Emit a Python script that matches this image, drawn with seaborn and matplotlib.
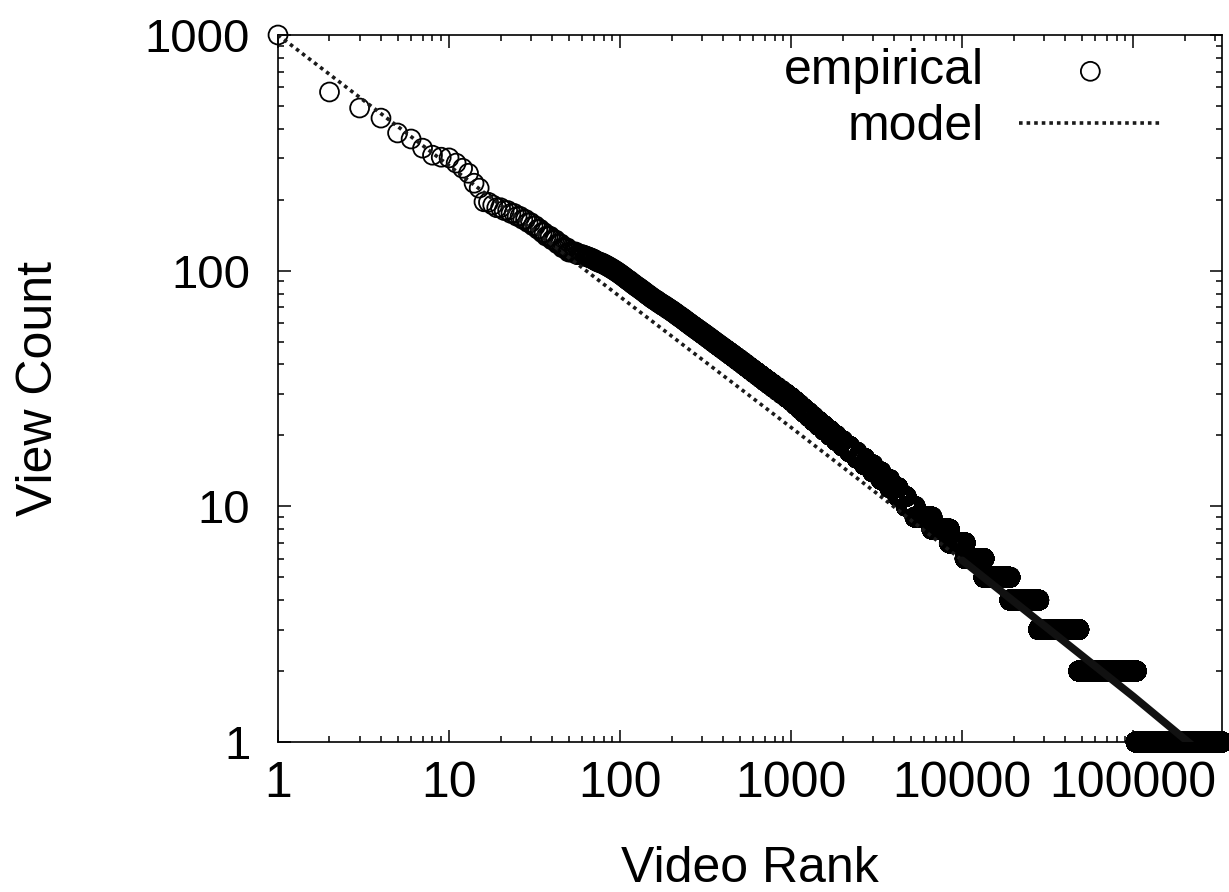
import numpy as np
import pandas as pd
import matplotlib
matplotlib.use("Agg")
import matplotlib.pyplot as plt
from matplotlib.ticker import FixedLocator, FixedFormatter, LogLocator, NullFormatter
import seaborn as sns

# ---------------- data ----------------
# most popular videos, one by one
top_ranks = [1, 2, 3, 4, 5, 6, 7, 8, 9, 10, 11, 12, 13, 14, 15, 16]
top_counts = [1000, 573, 490, 444, 384, 362, 331, 309, 303, 301, 286, 272, 259, 235, 224, 196]

# view-count levels below that, with the last rank holding each level
level_counts = [195, 190, 185, 180, 175, 170, 165, 160, 155, 150, 145, 140, 135, 130, 125,
                120, 117, 116, 115, 114, 113, 112, 111, 110, 109, 108, 107, 106, 105, 104,
                103, 102, 101, 100, 99, 98, 97, 96, 95, 94, 93, 92, 91, 90, 89, 88, 87, 86,
                85, 84, 83, 82, 81, 80, 79, 78, 77, 76, 75, 74, 73, 72, 71, 70, 69, 68, 67,
                66, 65, 64, 63, 62, 61, 60, 59, 58, 57, 56, 55, 54, 53, 52, 51, 50, 49, 48,
                47, 46, 45, 44, 43, 42, 41, 40, 39, 38, 37, 36, 35, 34, 33, 32, 31, 30, 29,
                28, 27, 26, 25, 24, 23, 22, 21, 20, 19, 18, 17, 16, 15, 14, 13, 12, 11, 10,
                9, 8, 7, 6, 5, 4, 3, 2, 1]
level_last_rank = [17, 18, 20, 22, 24, 26, 28, 30, 32, 34, 36, 39, 42, 45, 49,
                   55, 60, 62, 64, 66, 68, 70, 71, 73, 75, 78, 80, 82, 84, 86,
                   88, 90, 92, 94, 96, 98, 100, 102, 104, 106, 108, 110, 113, 115, 117, 120,
                   122, 125, 128, 131, 134, 137, 140, 143, 147, 150, 154, 158, 163, 167, 172,
                   177, 183, 188, 194, 200, 206, 212, 218, 225, 232, 239, 246, 254, 262, 271,
                   280, 290, 300, 311, 322, 334, 346, 359, 373, 388, 404, 421, 439, 458, 478,
                   500, 523, 547, 573, 601, 632, 665, 700, 740, 783, 830, 881, 938, 1000,
                   1058, 1121, 1190, 1268, 1353, 1449, 1559, 1688, 1834, 2000, 2194, 2421,
                   2685, 3000, 3345, 3760, 4210, 4700, 5300, 6650, 8400, 10400, 13400, 19000,
                   28000, 48000, 104000, 330000]

# fitted model
model_rank = [1, 10, 100, 1000, 3000, 10000, 100000, 330000]
model_count = [1000, 279, 77.5, 21.6, 11.7, 5.9, 1.56, 0.76]

x_ticks = [1, 10, 100, 1000, 10000, 100000]
x_tick_labels = ["1", "10", "100", "1000", "10000", "100000"]
y_ticks = [1, 10, 100, 1000]
y_tick_labels = ["1", "10", "100", "1000"]

# ---------------- build the rank / count table ----------------
ranks = list(top_ranks)
counts = list(top_counts)
prev = top_ranks[-1]
for c, last in zip(level_counts, level_last_rank):
    r = np.arange(prev + 1, last + 1)
    ranks.extend(r.tolist())
    counts.extend([c] * len(r))
    prev = last
emp = pd.DataFrame({"rank": ranks, "count": counts})

split = model_rank.index(10000)
model_a = pd.DataFrame({"rank": model_rank[:split + 1], "count": model_count[:split + 1]})
model_b = pd.DataFrame({"rank": model_rank[split:], "count": model_count[split:]})

# ---------------- style ----------------
sns.set_style("ticks")
plt.rcParams["font.family"] = ["Liberation Sans", "DejaVu Sans"]
plt.rcParams["text.color"] = "black"
plt.rcParams["axes.labelcolor"] = "black"
plt.rcParams["xtick.color"] = "black"
plt.rcParams["ytick.color"] = "black"

fig = plt.figure(figsize=(12.29, 8.92), dpi=100)
W, H = 1229, 892
ax = fig.add_axes([278 / W, 1 - 742 / H, (1222 - 278) / W, (742 - 35) / H])

sns.scatterplot(data=emp, x="rank", y="count", ax=ax, marker="o", s=185,
                facecolors="none", edgecolor="black", linewidth=1.3,
                clip_on=False, legend=False, zorder=3, label="empirical")
sns.lineplot(data=model_a, x="rank", y="count", ax=ax, color="#1a1a1a",
             linewidth=2.6, linestyle=(0, (1, 1.1)), zorder=4, label="model",
             legend=False)
sns.lineplot(data=model_b, x="rank", y="count", ax=ax, color="#111111",
             linewidth=5.5, linestyle="-", zorder=4, legend=False)

ax.set_xscale("log")
ax.set_yscale("log")
ax.set_xlim(1, 330000)
ax.set_ylim(1, 1000)

ax.xaxis.set_major_locator(FixedLocator(x_ticks))
ax.xaxis.set_major_formatter(FixedFormatter(x_tick_labels))
ax.yaxis.set_major_locator(FixedLocator(y_ticks))
ax.yaxis.set_major_formatter(FixedFormatter(y_tick_labels))
ax.xaxis.set_minor_locator(LogLocator(base=10, subs=np.arange(2, 10)))
ax.yaxis.set_minor_locator(LogLocator(base=10, subs=np.arange(2, 10)))
ax.xaxis.set_minor_formatter(NullFormatter())
ax.yaxis.set_minor_formatter(NullFormatter())

ax.tick_params(which="both", direction="in", top=True, right=True,
               colors="black", width=1.1)
ax.tick_params(which="major", length=9)
ax.tick_params(which="minor", length=4.5)
ax.tick_params(axis="x", which="major", pad=14, labelsize=36)
ax.tick_params(axis="y", which="major", pad=20, labelsize=34)

for sp in ax.spines.values():
    sp.set_color("black")
    sp.set_linewidth(1.2)

ax.set_xlabel("Video Rank", fontsize=36, labelpad=28)
ax.set_ylabel("View Count", fontsize=36, labelpad=60)

# ---------------- legend (labels right-aligned next to samples) ----------------
handles, labels = ax.get_legend_handles_labels()
hd = dict(zip(labels, handles))
common = dict(loc="upper right", markerfirst=False, frameon=False, borderpad=0,
              borderaxespad=0, handlelength=2.85, handletextpad=0.7, fontsize=36)
leg1 = ax.legend([hd["empirical"]], ["empirical"], bbox_to_anchor=(0.936, 0.981), **common)
ax.add_artist(leg1)
leg2 = ax.legend([hd["model"]], ["model"], bbox_to_anchor=(0.936, 0.902), **common)

fig.savefig("out.png", dpi=100, facecolor="white")
